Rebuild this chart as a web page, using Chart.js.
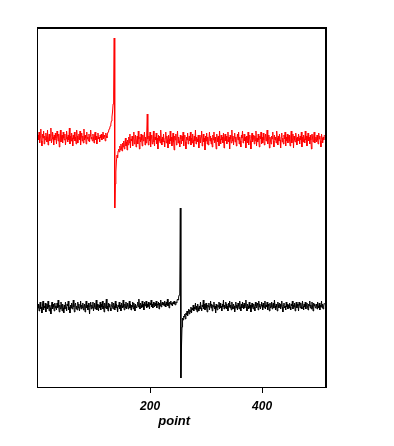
<!DOCTYPE html>
<html>
<head>
<meta charset="utf-8">
<script src="https://cdn.jsdelivr.net/npm/chart.js@4"></script>
<style>
  html, body { margin: 0; padding: 0; background: #fff; }
  canvas { display: block; }
</style>
</head>
<body>
<canvas id="traceChart" width="394" height="446"></canvas>
<script>
// upper trace (red), one value per point, 0..511
const redValues = [
    252, 247, 255, 244, 250, 258, 246, 241, 253, 249, 256, 243, 251, 247, 254, 250,
    245, 257, 242, 249, 253, 246, 251, 259, 244, 248, 255, 250, 242, 252, 247, 254,
    249, 243, 256, 251, 246, 253, 240, 248, 257, 245, 250, 252, 244, 255, 249, 247,
    253, 242, 248, 256, 250, 245, 252, 247, 259, 243, 251, 246, 254, 249, 241, 252,
    248, 255, 246, 250, 243, 257, 251, 244, 249, 253, 247, 256, 242, 250, 254, 246,
    251, 244, 258, 247, 252, 249, 243, 255, 248, 250, 246, 253, 245, 251, 257, 248,
    250, 246, 253, 249, 244, 252, 255, 247, 251, 243, 249, 254, 248, 250, 245, 252,
    249, 253, 247, 251, 255, 248, 252, 250, 246, 254, 251, 249, 253, 255, 256, 258,
    259, 261, 263, 266, 270, 275, 283, 293, 349, 179, 203, 215, 226, 232, 229, 236,
    238, 235, 241, 237, 243, 239, 236, 244, 240, 246, 238, 243, 249, 241, 245, 237,
    247, 242, 250, 244, 253, 239, 248, 246, 251, 241, 249, 255, 243, 247, 252, 240,
    246, 251, 243, 256, 248, 238, 250, 245, 253, 247, 241, 252, 246, 249, 255, 242,
    250, 244, 253, 273, 248, 242, 251, 246, 255, 240, 249, 252, 243, 247, 256, 245,
    241, 250, 247, 254, 243, 249, 238, 252, 246, 251, 244, 257, 248, 242, 250, 245,
    253, 246, 240, 249, 255, 244, 251, 247, 239, 252, 248, 243, 256, 246, 250, 241,
    248, 254, 245, 237, 251, 247, 253, 242, 249, 256, 244, 250, 246, 240, 252, 248,
    243, 251, 246, 255, 241, 249, 252, 245, 238, 250, 247, 254, 243, 248, 251, 246,
    255, 242, 249, 244, 253, 247, 240, 251, 246, 257, 243, 250, 248, 245, 252, 239,
    247, 252, 244, 250, 256, 241, 248, 253, 245, 249, 237, 251, 246, 254, 243, 250,
    242, 248, 255, 246, 251, 243, 249, 240, 252, 247, 255, 244, 250, 246, 238, 253,
    249, 245, 251, 241, 256, 248, 243, 252, 247, 250, 244, 254, 239, 249, 253, 246,
    251, 243, 247, 255, 245, 250, 238, 252, 248, 244, 257, 246, 251, 242, 249, 254,
    245, 250, 241, 248, 253, 247, 255, 243, 250, 246, 240, 252, 249, 256, 244, 248,
    253, 246, 250, 239, 251, 247, 244, 255, 242, 249, 252, 246, 238, 250, 254, 245,
    248, 252, 243, 251, 246, 256, 241, 249, 245, 253, 247, 240, 251, 248, 255, 243,
    250, 244, 254, 247, 242, 250, 253, 246, 249, 257, 243, 248, 252, 239, 250, 246,
    243, 251, 248, 255, 246, 240, 252, 247, 250, 244, 256, 249, 242, 251, 246, 253,
    247, 239, 250, 254, 245, 249, 243, 252, 248, 255, 241, 250, 246, 253, 244, 249,
    252, 246, 241, 250, 256, 244, 248, 253, 239, 251, 247, 245, 254, 249, 242, 250,
    246, 253, 249, 243, 251, 247, 255, 240, 250, 245, 252, 248, 244, 256, 247, 251,
    241, 249, 254, 246, 250, 243, 252, 247, 238, 253, 249, 245, 251, 255, 244, 248,
    250, 245, 252, 247, 243, 254, 248, 251, 246, 240, 253, 249, 244, 250, 247, 252
];

// lower trace (black)
const blackValues = [
    79, 83, 76, 81, 85, 78, 80, 74, 82, 86, 77, 81, 79, 84, 75, 80,
    83, 78, 86, 80, 76, 82, 79, 73, 81, 85, 78, 83, 80, 76, 84, 79,
    81, 77, 84, 79, 87, 80, 75, 82, 78, 85, 81, 76, 83, 79, 74, 82,
    78, 85, 80, 76, 83, 81, 86, 77, 80, 74, 82, 79, 84, 78, 81, 87,
    80, 75, 82, 84, 78, 81, 77, 85, 79, 83, 76, 80, 86, 78, 82, 79,
    84, 77, 80, 83, 75, 81, 86, 79, 82, 77, 84, 80, 73, 81, 85, 78,
    82, 79, 85, 76, 80, 84, 78, 81, 87, 77, 83, 80, 76, 82, 79, 85,
    77, 83, 80, 86, 78, 81, 75, 84, 79, 82, 88, 78, 81, 76, 84, 80,
    83, 79, 76, 82, 85, 80, 78, 84, 81, 77, 86, 79, 83, 80, 75, 82,
    80, 85, 78, 82, 76, 84, 81, 79, 87, 80, 77, 83, 79, 85, 78, 81,
    84, 78, 81, 86, 79, 83, 77, 82, 80, 85, 78, 84, 81, 76, 83, 80,
    79, 82, 85, 80, 88, 81, 78, 84, 82, 79, 86, 80, 83, 77, 85, 81,
    82, 86, 79, 83, 80, 85, 81, 78, 84, 82, 87, 80, 83, 79, 85, 82,
    80, 84, 81, 86, 79, 83, 82, 85, 78, 84, 81, 87, 80, 83, 85, 82,
    84, 81, 86, 83, 80, 85, 82, 88, 81, 84, 79, 85, 83, 86, 82, 84,
    81, 85, 83, 86, 83, 82, 85, 84, 86, 88, 87, 90, 92, 94, 179, 9,
    39, 60, 69, 67, 71, 70, 73, 68, 74, 72, 76, 71, 75, 78, 73, 77,
    75, 80, 74, 79, 77, 82, 76, 80, 78, 84, 77, 81, 75, 83, 79, 76,
    81, 78, 85, 79, 76, 82, 80, 87, 78, 83, 77, 81, 84, 79, 75, 82,
    80, 84, 77, 81, 86, 79, 83, 76, 82, 80, 85, 78, 81, 74, 83, 79,
    77, 82, 80, 85, 78, 84, 79, 81, 76, 83, 80, 87, 78, 82, 79, 85,
    83, 78, 81, 76, 84, 80, 86, 79, 82, 77, 85, 80, 78, 83, 81, 75,
    80, 85, 79, 82, 77, 84, 81, 78, 86, 80, 76, 83, 79, 85, 82, 78,
    84, 79, 82, 87, 80, 76, 83, 81, 78, 85, 79, 82, 75, 81, 84, 80,
    78, 83, 80, 76, 85, 81, 79, 84, 82, 77, 86, 80, 83, 78, 81, 85,
    82, 77, 84, 80, 79, 86, 78, 82, 80, 85, 77, 83, 81, 76, 84, 79,
    80, 85, 78, 82, 84, 79, 87, 81, 77, 83, 80, 76, 85, 82, 79, 84,
    83, 78, 81, 86, 80, 75, 82, 84, 79, 81, 77, 85, 80, 83, 78, 82,
    79, 84, 80, 77, 83, 81, 86, 78, 82, 80, 84, 76, 81, 85, 79, 83,
    81, 76, 85, 82, 79, 84, 80, 78, 86, 81, 77, 83, 80, 85, 78, 82,
    84, 80, 77, 83, 81, 86, 79, 82, 78, 85, 80, 76, 84, 81, 83, 79,
    80, 83, 78, 85, 81, 79, 84, 77, 82, 80, 86, 79, 83, 78, 81, 84
];

const xTicks = [200, 400];
const xTitle = 'point';

// point index of every sample
const points = redValues.map((_, i) => i);

function toXY(values) {
    return values.map((v, i) => ({ x: points[i], y: v }));
}

// frame round the plot area, heavier on top and right
const framePlugin = {
    id: 'frame',
    afterDatasetsDraw(chart) {
        const { ctx, chartArea } = chart;
        const { left, right, top, bottom } = chartArea;
        ctx.save();
        ctx.fillStyle = '#000';
        ctx.fillRect(left - 1, top, right - left + 2, 2);
        ctx.fillRect(right - 1, top, 2, bottom - top + 1);
        ctx.fillRect(left - 1, top, 1, bottom - top + 1);
        ctx.fillRect(left - 1, bottom, right - left + 2, 1);
        ctx.restore();
    }
};

// axis title sits a bit left of the axis centre in the original
const titlePlugin = {
    id: 'axisTitle',
    afterDraw(chart) {
        const { ctx } = chart;
        const xScale = chart.scales.x;
        ctx.save();
        ctx.fillStyle = '#000';
        ctx.font = 'italic bold 13px "Liberation Sans"';
        ctx.textAlign = 'center';
        ctx.textBaseline = 'alphabetic';
        ctx.fillText(xTitle, xScale.getPixelForValue(243), 425);
        ctx.restore();
    }
};

const chart = new Chart(document.getElementById('traceChart'), {
    type: 'line',
    data: {
        datasets: [{
            data: toXY(redValues),
            borderColor: '#ff0000',
            borderWidth: 1,
            pointRadius: 0,
            tension: 0,
            fill: false
        }, {
            data: toXY(blackValues),
            borderColor: '#000000',
            borderWidth: 1,
            pointRadius: 0,
            tension: 0,
            fill: false
        }]
    },
    options: {
        responsive: false,
        animation: false,
        devicePixelRatio: 1,
        layout: {
            padding: { left: 38, right: 68, top: 27, bottom: 0 }
        },
        plugins: {
            legend: { display: false },
            tooltip: { enabled: false }
        },
        scales: {
            x: {
                type: 'linear',
                min: 0,
                max: 514,
                afterBuildTicks: function(axis) {
                    axis.ticks = xTicks.map(v => ({ value: v }));
                },
                afterFit: function(axis) {
                    axis.height = 59;
                },
                border: { display: false },
                grid: {
                    drawOnChartArea: false,
                    drawTicks: true,
                    tickLength: 6,
                    color: '#000',
                    lineWidth: 1
                },
                ticks: {
                    color: '#000',
                    padding: 6,
                    maxRotation: 0,
                    font: { family: 'Liberation Sans', size: 12, style: 'italic', weight: 'bold' }
                },
                title: { display: false }
            },
            y: {
                display: false,
                min: 0,
                max: 360
            }
        }
    },
    plugins: [framePlugin, titlePlugin]
});
</script>
</body>
</html>
